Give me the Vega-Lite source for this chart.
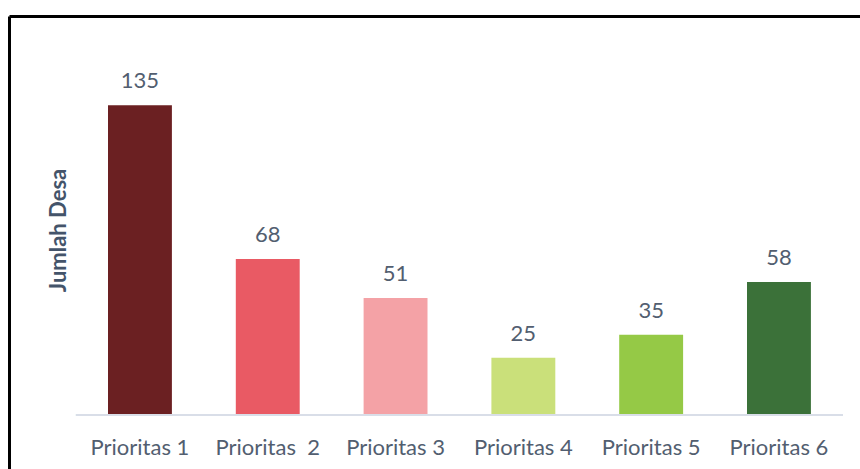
{
  "$schema": "https://vega.github.io/schema/vega-lite/v6.json",
  "width": 851,
  "height": 453,
  "autosize": {"type": "none"},
  "padding": {"left": 9, "top": 16, "right": 0, "bottom": 0},
  "background": "white",
  "config": {
    "view": {"stroke": null},
    "font": "Lato"
  },
  "data": {
    "values": [
      {"kategori": "Prioritas 1", "jumlah": 135},
      {"kategori": "Prioritas \u00a02", "jumlah": 68},
      {"kategori": "Prioritas 3", "jumlah": 51},
      {"kategori": "Prioritas 4", "jumlah": 25},
      {"kategori": "Prioritas 5", "jumlah": 35},
      {"kategori": "Prioritas 6", "jumlah": 58}
    ]
  },
  "layer": [
    {
      "mark": {"type": "bar"},
      "encoding": {
        "x": {
          "field": "kategori",
          "type": "nominal",
          "sort": null,
          "scale": {
            "domain": ["Prioritas 1", "Prioritas \u00a02", "Prioritas 3", "Prioritas 4", "Prioritas 5", "Prioritas 6"],
            "paddingInner": 0.5,
            "paddingOuter": 0.5794,
            "align": 0.6685,
            "round": false
          },
          "axis": {
            "orient": "bottom",
            "domain": false,
            "ticks": false,
            "grid": false,
            "title": null,
            "labelAngle": 0,
            "labelFontSize": 22,
            "labelColor": "#525E70",
            "labelPadding": 22,
            "offset": -54
          }
        },
        "y": {
          "field": "jumlah",
          "type": "quantitative",
          "scale": {"domain": [-23.5, 173.9], "nice": false, "zero": false},
          "axis": {
            "orient": "left",
            "domainColor": "black",
            "domainWidth": 3,
            "labels": false,
            "ticks": false,
            "grid": false,
            "title": "Jumlah Desa",
            "titleFontSize": 22,
            "titleFontWeight": "bold",
            "titleColor": "#44546A",
            "titleX": 49,
            "titleY": 214,
            "titleAngle": 270,
            "titleAlign": "center",
            "titleBaseline": "middle"
          }
        },
        "color": {
          "field": "kategori",
          "type": "nominal",
          "scale": {
            "domain": ["Prioritas 1", "Prioritas \u00a02", "Prioritas 3", "Prioritas 4", "Prioritas 5", "Prioritas 6"],
            "range": ["#6B2022", "#E95A64", "#F4A2A6", "#CAE07A", "#95C946", "#3B7139"]
          },
          "legend": null
        }
      }
    },
    {
      "mark": {"type": "text", "baseline": "alphabetic", "dy": -17, "fontSize": 22, "color": "#525E70"},
      "encoding": {
        "x": {
          "field": "kategori",
          "type": "nominal",
          "sort": null,
          "axis": {
            "orient": "top",
            "domainColor": "black",
            "domainWidth": 3,
            "labels": false,
            "ticks": false,
            "grid": false,
            "title": null
          }
        },
        "y": {"field": "jumlah", "type": "quantitative", "axis": null},
        "text": {"field": "jumlah", "type": "quantitative"}
      }
    },
    {
      "mark": {"type": "rule", "xOffset": -64, "x2Offset": 64, "color": "#D9DEE8", "strokeWidth": 2},
      "encoding": {
        "x": {"datum": "Prioritas 1", "type": "nominal", "axis": null},
        "x2": {"datum": "Prioritas 6"},
        "y": {"datum": 0, "type": "quantitative", "axis": null}
      }
    }
  ],
  "resolve": {"axis": {"x": "independent", "y": "independent"}, "scale": {"x": "shared", "y": "shared"}}
}
